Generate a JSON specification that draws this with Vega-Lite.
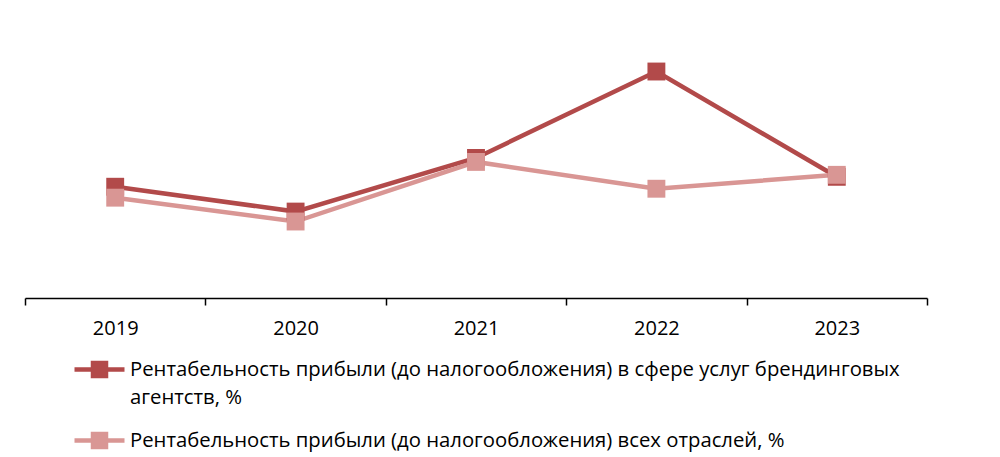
{
  "$schema": "https://vega.github.io/schema/vega-lite/v6.json",
  "width": 902,
  "height": 298,
  "autosize": "none",
  "padding": {"left": 25, "top": 0, "right": 73, "bottom": 159},
  "background": "white",
  "config": {"view": {"stroke": null}, "font": "Open Sans"},
  "data": {
    "values": [
      {"year": "2019", "series": "Рентабельность прибыли (до налогообложения) в сфере услуг брендинговых|агентств, %", "value": 11.2},
      {"year": "2020", "series": "Рентабельность прибыли (до налогообложения) в сфере услуг брендинговых|агентств, %", "value": 8.7},
      {"year": "2021", "series": "Рентабельность прибыли (до налогообложения) в сфере услуг брендинговых|агентств, %", "value": 14.1},
      {"year": "2022", "series": "Рентабельность прибыли (до налогообложения) в сфере услуг брендинговых|агентств, %", "value": 22.8},
      {"year": "2023", "series": "Рентабельность прибыли (до налогообложения) в сфере услуг брендинговых|агентств, %", "value": 12.2},
      {"year": "2019", "series": "Рентабельность прибыли (до налогообложения) всех отраслей, %", "value": 10.1},
      {"year": "2020", "series": "Рентабельность прибыли (до налогообложения) всех отраслей, %", "value": 7.7},
      {"year": "2021", "series": "Рентабельность прибыли (до налогообложения) всех отраслей, %", "value": 13.7},
      {"year": "2022", "series": "Рентабельность прибыли (до налогообложения) всех отраслей, %", "value": 11.0},
      {"year": "2023", "series": "Рентабельность прибыли (до налогообложения) всех отраслей, %", "value": 12.4}
    ]
  },
  "mark": {"type": "line", "strokeWidth": 4.5, "point": {"shape": "square", "size": 320, "filled": true, "opacity": 1}},
  "encoding": {
    "x": {
      "field": "year", "type": "ordinal",
      "scale": {"type": "band", "paddingInner": 0, "paddingOuter": 0},
      "axis": {
        "title": null, "tickBand": "extent", "labelAngle": 0,
        "domainColor": "#000", "domainWidth": 1.5, "tickColor": "#000", "tickWidth": 1.5, "tickSize": 7,
        "labelFontSize": 20, "labelColor": "#000", "labelPadding": 13
      }
    },
    "y": {"field": "value", "type": "quantitative", "scale": {"domain": [0, 30]}, "axis": null},
    "color": {
      "field": "series", "type": "nominal",
      "scale": {
        "domain": ["Рентабельность прибыли (до налогообложения) в сфере услуг брендинговых|агентств, %", "Рентабельность прибыли (до налогообложения) всех отраслей, %"],
        "range": ["#B24A4A", "#D99694"]
      },
      "legend": {
        "title": null, "orient": "none", "legendX": 47, "legendY": 342, "direction": "vertical",
        "symbolType": "M-1,0H1M-0.26,-0.26H0.26V0.26H-0.26ZM-0.26,-0.1H0.26M-0.26,0.1H0.26",
        "symbolSize": 2500, "symbolStrokeWidth": 4.5,
        "labelExpr": "split(datum.label, '|')",
        "labelFontSize": 20.3, "labelColor": "#000", "labelLimit": 1000, "labelOffset": 3,
        "labelBaseline": "middle", "rowPadding": 5,
        "encode": {"labels": {"update": {"lineHeight": {"value": 28}}}}
      }
    }
  }
}
